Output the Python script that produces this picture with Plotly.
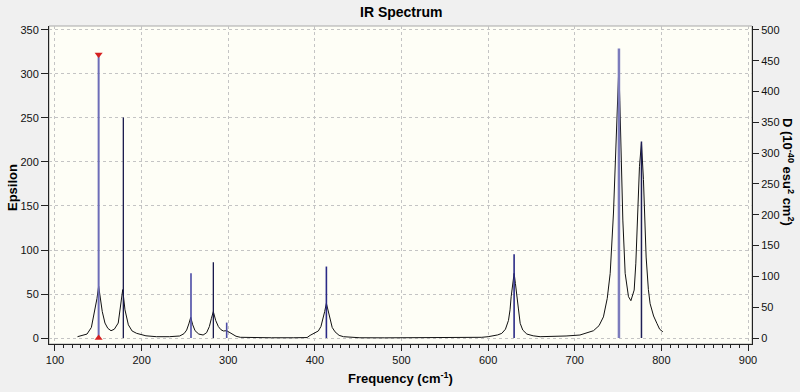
import plotly.graph_objects as go

# ---- data ----
stick_freq = [150.4, 178.9, 257.0, 282.8, 298.2, 413.3, 630.0, 751.0, 777.0]
stick_D = [460, 358, 105, 123, 25, 116, 136, 470, 319]
stick_color = ["#6d6db8", "#18184a", "#4c4ca6", "#18184a", "#4c4ca6",
               "#2a2a86", "#2a2a86", "#7c7cbc", "#1e1e56"]
stick_width = [2, 1.3, 1.6, 1.3, 1.6, 1.6, 1.6, 2.5, 1.5]

curve_freq = [126, 132, 137, 142, 146, 148.5, 150.4, 152.5, 154.6, 157.7, 161, 164.7,
              168.5, 173, 175.8, 178.2, 180.8, 184.7, 189, 194.3, 205, 217, 232, 244,
              249, 252, 254.5, 256.7, 259, 261.7, 266, 271, 275, 278.2, 280.5, 282.8,
              285.5, 288.6, 291.5, 294.4, 298.2, 301, 304, 309, 314, 325, 350, 375,
              391, 394.5, 400, 404, 407, 409, 411.3, 413.3, 415.5, 417.6, 420, 423.3,
              428, 433, 442, 452, 480, 510, 540, 570, 585, 592.7, 600, 606, 611,
              615.8, 620, 623.5, 625.3, 626.6, 628.5, 630, 631.5, 633.1, 635, 637,
              640, 644.7, 652, 660, 671.6, 690, 706, 714, 721.6, 728, 733.1, 737.5,
              740.9, 744.7, 747.4, 749.5, 750.9, 752, 753.2, 755.5, 758.2, 762, 764.8,
              768.6, 770.5, 772.4, 774.7, 777, 779.3, 782.4, 785, 787, 791, 794.8,
              798, 801.7]
curve_eps = [1.5, 3, 4.5, 12, 30, 45, 59, 45, 30, 17, 11, 8.3,
             10, 17, 35, 55, 32, 15, 8, 5.3, 2.5, 1.5, 1.5, 2.3,
             5, 9, 16, 23.5, 15, 8.3, 4.5, 3.4, 6, 13, 22, 30,
             20, 13, 9.5, 8, 8.3, 6.5, 4.5, 2, 0.8, 0.4, 0.3, 0.3,
             0.5, 3, 5.5, 8, 13, 20, 30, 39.4, 30, 20, 12, 7,
             3, 1.5, 0.6, 0.3, 0.2, 0.2, 0.2, 0.3, 0.6, 0.8, 1.5, 2.3, 3.5,
             5.3, 10, 20, 32, 47, 62, 73.5, 62, 51, 33, 16.7,
             9, 4.5, 2.5, 1.5, 1.5, 2.3, 3.4, 5.5, 8.3, 14, 24, 45,
             73.5, 142, 206, 270, 308, 270, 225, 134, 73.5, 47, 42.4,
             54.5, 85, 130, 195, 222, 180, 92, 55, 39, 25, 16.7,
             10, 7]

x_ticks = [100, 200, 300, 400, 500, 600, 700, 800, 900]
eps_ticks = [0, 50, 100, 150, 200, 250, 300, 350]
d_ticks = [0, 50, 100, 150, 200, 250, 300, 350, 400, 450, 500]
selected = 0  # index of the marked stick

FONT = "Liberation Sans, Arial, sans-serif"

fig = go.Figure()

for f, d, c, w in zip(stick_freq, stick_D, stick_color, stick_width):
    fig.add_trace(go.Scatter(x=[f, f], y=[0, d], mode="lines", yaxis="y2",
                             line=dict(color=c, width=w), showlegend=False,
                             hoverinfo="skip"))

fig.add_trace(go.Scatter(x=curve_freq, y=curve_eps, mode="lines",
                         line=dict(color="#111111", width=1), showlegend=False))

fig.add_trace(go.Scatter(x=[stick_freq[selected]], y=[stick_D[selected]], yaxis="y2",
                         mode="markers", marker=dict(symbol="triangle-down", size=7,
                                                     color="#d62020"),
                         showlegend=False))
fig.add_trace(go.Scatter(x=[stick_freq[selected]], y=[0], yaxis="y2",
                         mode="markers", marker=dict(symbol="triangle-up", size=7,
                                                     color="#d62020"),
                         showlegend=False))

grid = dict(showgrid=True, gridcolor="#c4c4c4", gridwidth=1, griddash="3px,3px")

fig.update_layout(
    width=800, height=392,
    margin=dict(l=49, r=48, t=26, b=48),
    paper_bgcolor="#f0f0f0",
    plot_bgcolor="#fefef6",
    font=dict(family=FONT, size=11, color="#111111"),
    xaxis=dict(range=[93.1, 904.6], tickvals=x_ticks, ticks="outside", ticklen=6,
               tickcolor="#222", showline=True, linecolor="#222", linewidth=1,
               zeroline=False, minor=dict(dtick=10, ticks="outside", ticklen=3,
                                          tickcolor="#222", showgrid=False),
               tickfont=dict(size=11), **grid),
    yaxis=dict(range=[-6.8, 354.5], tickvals=eps_ticks, ticks="outside", ticklen=7,
               tickcolor="#222", showline=True, linecolor="#222", linewidth=1,
               zeroline=False, tickfont=dict(size=11), **grid),
    yaxis2=dict(range=[-6.8 * 500 / 350, 354.5 * 500 / 350], tickvals=d_ticks,
                overlaying="y", side="right", ticks="outside", ticklen=6,
                tickcolor="#222", showline=True, linecolor="#222", linewidth=1,
                showgrid=False, zeroline=False, tickfont=dict(size=11)),
    shapes=[dict(type="rect", xref="paper", yref="paper", x0=0, x1=1, y0=0, y1=1,
                 line=dict(color="#a8a8a8", width=1), layer="below")],
    annotations=[
        dict(text="<b>IR Spectrum</b>", xref="paper", yref="paper", x=0.5, y=1,
             xanchor="center", yanchor="bottom", yshift=4, showarrow=False,
             font=dict(size=14, family=FONT, color="#000")),
        dict(text="<b>Frequency (cm<sup>-1</sup>)</b>", xref="paper", yref="paper",
             x=0.5, y=0, xanchor="center", yanchor="top", yshift=-24,
             showarrow=False, font=dict(size=13, family=FONT, color="#000")),
        dict(text="<b>Epsilon</b>", xref="paper", yref="paper", x=0, y=0.5,
             xanchor="center", yanchor="middle", xshift=-37, yshift=-3,
             textangle=-90, showarrow=False,
             font=dict(size=13, family=FONT, color="#000")),
        dict(text="<b>D (10<sup>-40</sup> esu<sup>2</sup> cm<sup>2</sup>)</b>",
             xref="paper", yref="paper", x=1, y=0.5, xanchor="center",
             yanchor="middle", xshift=36, yshift=13, textangle=90,
             showarrow=False, font=dict(size=13, family=FONT, color="#000")),
    ],
)

fig.write_html("out.html")
